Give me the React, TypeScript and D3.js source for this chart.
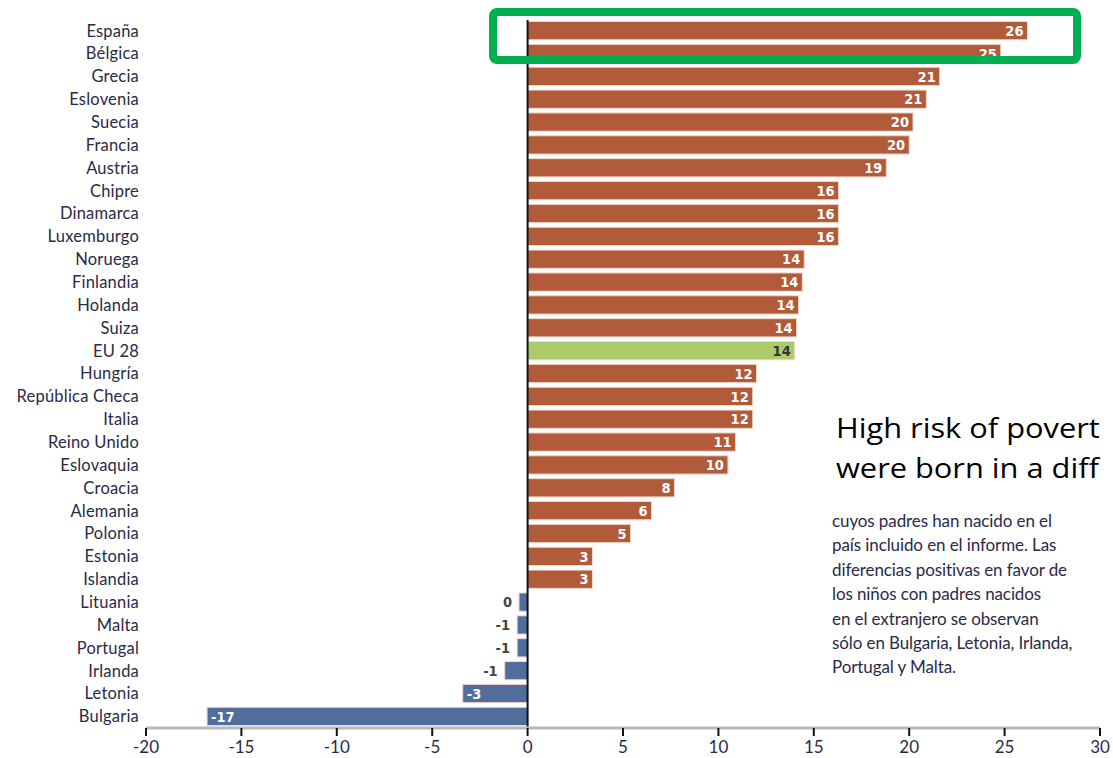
import React from "react";
import * as d3 from "d3";

const countries = ["España","Bélgica","Grecia","Eslovenia","Suecia","Francia","Austria","Chipre","Dinamarca","Luxemburgo","Noruega","Finlandia","Holanda","Suiza","EU 28","Hungría","República Checa","Italia","Reino Unido","Eslovaquia","Croacia","Alemania","Polonia","Estonia","Islandia","Lituania","Malta","Portugal","Irlanda","Letonia","Bulgaria"];
const values = [26.2,24.8,21.6,20.9,20.2,20.0,18.8,16.3,16.3,16.3,14.5,14.4,14.2,14.1,14.0,12.0,11.8,11.8,10.9,10.5,7.7,6.5,5.4,3.4,3.4,-0.45,-0.55,-0.55,-1.2,-3.4,-16.8];
const labels = ["26","25","21","21","20","20","19","16","16","16","14","14","14","14","14","12","12","12","11","10","8","6","5","3","3","0","-1","-1","-1","-3","-17"];
const xTicks = [-20,-15,-10,-5,0,5,10,15,20,25,30];
const titleLines = ["High risk of povert", "were born in a diff"];
const noteLines = ["cuyos padres han nacido en el","país incluido en el informe. Las","diferencias positivas en favor de","los niños con padres nacidos","en el extranjero se observan","sólo en Bulgaria, Letonia, Irlanda,","Portugal y Malta."];

export default function App() {
  const W = 1113, H = 758;
  const x = d3.scaleLinear().domain([-20, 30]).range([146, 1100]);
  const y = d3.scaleBand<string>().domain(countries).range([19.2, 727.8]).paddingInner(0.2).paddingOuter(0.1);
  const axisY = 728;
  const labelFont = "Lato, 'Open Sans', sans-serif";
  const valFont = "'Liberation Sans Narrow', 'DejaVu Sans Condensed', Roboto, sans-serif";
  const txtCol = "#2a2a48";
  return (
    <svg width={W} height={H} style={{ position: "absolute", left: 0, top: 0, background: "#fff" }}>
      <rect x={0} y={0} width={W} height={H} fill="#fff" />
      {countries.map((c, i) => {
        const v = values[i];
        const x0 = x(Math.min(0, v)), x1 = x(Math.max(0, v));
        const yy = y(c)!;
        const bh = y.bandwidth();
        const fill = c === "EU 28" ? "#ABCB6A" : v < 0 ? "#506D9C" : "#B15B3A";
        const cy = yy + bh / 2;
        let lx: number, anchor: string, col: string;
        if (v >= 0) { lx = x1 - 4; anchor = "end"; col = c === "EU 28" ? "#333" : "#fff"; }
        else if (v > -2) { lx = x0 - 7; anchor = "end"; col = "#444"; }
        else { lx = x0 + 4; anchor = "start"; col = "#fff"; }
        return (
          <g key={c}>
            <text x={139} y={cy} dy="0.36em" textAnchor="end" fontFamily={labelFont} fontSize={16.5} fill={txtCol} letterSpacing={0.2}>{c}</text>
            <rect x={x0} y={yy} width={Math.max(0.5, x1 - x0)} height={bh} fill={fill} stroke="#f2d9cf" strokeWidth={1} />
            <text x={lx} y={cy} dy="0.36em" textAnchor={anchor} fontFamily={valFont} fontWeight="bold" fontSize={14.5} fill={col}>{labels[i]}</text>
          </g>
        );
      })}
      <line x1={x(0)} x2={x(0)} y1={20} y2={axisY} stroke="#111" strokeWidth={2} />
      <line x1={x(-20)} x2={x(30)} y1={axisY} y2={axisY} stroke="#b8b8b8" strokeWidth={3} />
      {xTicks.map(t => (
        <g key={t}>
          <line x1={x(t)} x2={x(t)} y1={axisY} y2={axisY + 8} stroke="#111" strokeWidth={2} />
          <text x={x(t)} y={753} textAnchor="middle" fontFamily={labelFont} fontSize={17} fill={txtCol}>{t}</text>
        </g>
      ))}
      {titleLines.map((t, i) => (
        <text key={i} transform={`translate(836, ${438 + i * 40}) scale(1.1, 1)`} fontFamily="'Open Sans', sans-serif" fontSize={28} fill="#000">{t}</text>
      ))}
      {noteLines.map((t, i) => (
        <text key={i} x={832} y={527 + i * 24.4} fontFamily={labelFont} fontSize={17} fill={txtCol} letterSpacing={-0.1}>{t}</text>
      ))}
      <rect x={493} y={12} width={584} height={48} rx={4} fill="none" stroke="#00B050" strokeWidth={8} />
    </svg>
  );
}
